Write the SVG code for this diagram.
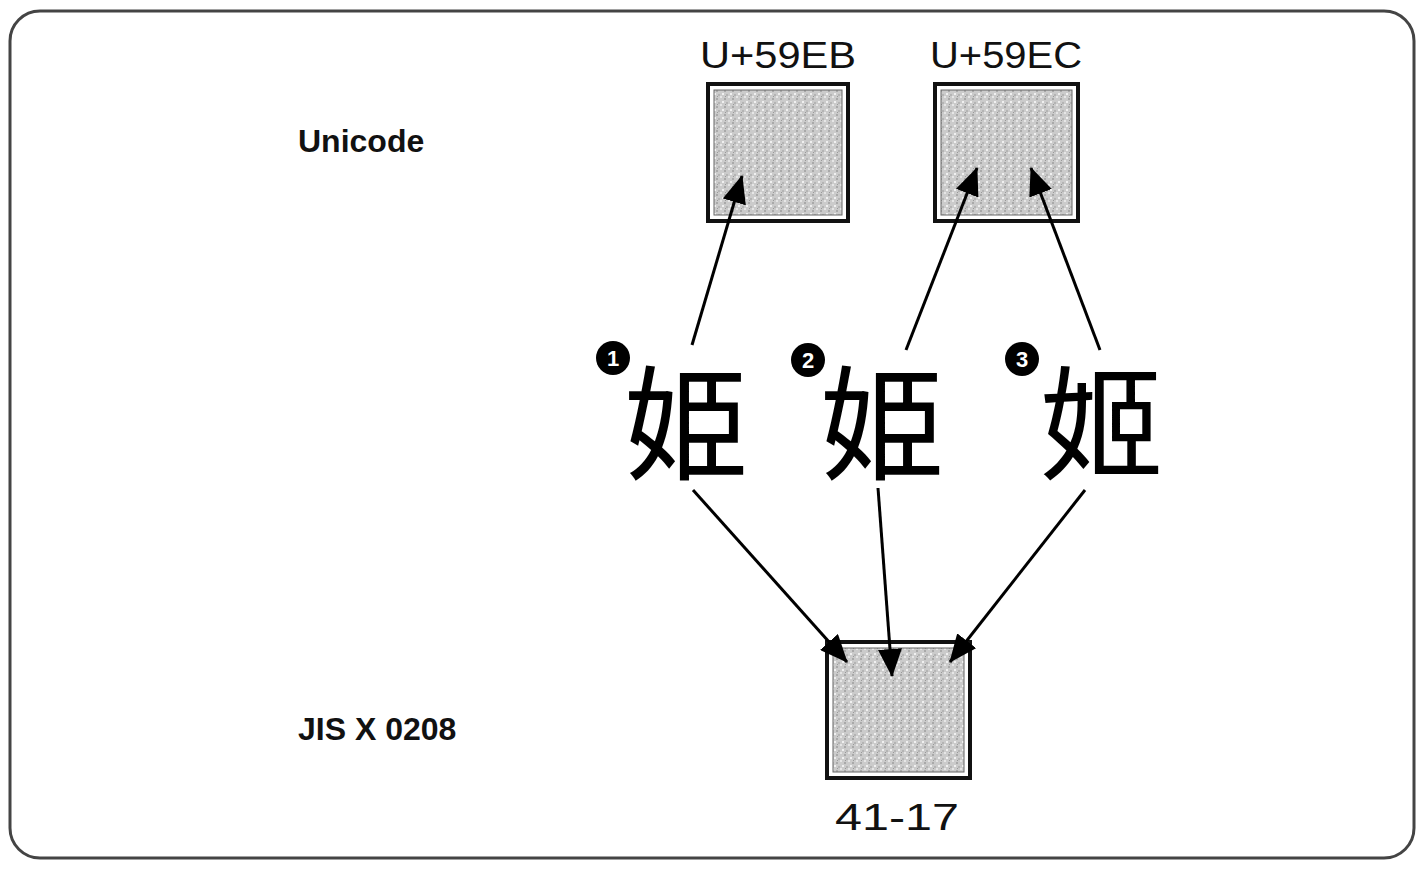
<svg xmlns="http://www.w3.org/2000/svg" width="1424" height="883" viewBox="0 0 1424 883">
<style>
.lbl{font-family:"Liberation Sans",Arial,sans-serif;font-size:37px;fill:#111;}
.row{font-family:"Liberation Sans",Arial,sans-serif;font-size:32px;font-weight:bold;fill:#111;}
.kanji{font-family:"Noto Sans CJK JP","Noto Sans CJK SC",sans-serif;font-size:124px;fill:#000;}
.kanjitc{font-family:"Noto Sans CJK TC","Noto Sans CJK SC",sans-serif;font-size:124px;fill:#000;}
.box{fill:#fff;stroke:#111;stroke-width:4;}
.fill{fill:url(#grain);stroke:#666;stroke-width:1;}
.conn{stroke:#000;stroke-width:3;fill:none;marker-end:url(#ah);}
.num{font-family:"Liberation Sans",Arial,sans-serif;font-size:22px;font-weight:bold;fill:#fff;}
</style>
<defs>
<marker id="ah" viewBox="0 0 28 24" refX="27" refY="12" markerWidth="28" markerHeight="24" orient="auto" markerUnits="userSpaceOnUse">
<path d="M0,0 L28,12 L0,24 z" fill="#000"/>
</marker>
<pattern id="grain" width="8" height="8" patternUnits="userSpaceOnUse">
<rect width="8" height="8" fill="#cbcbcb"/>
<rect x="0" y="0" width="2" height="2" fill="#e6e6e6"/>
<rect x="4" y="2" width="2" height="2" fill="#a9a9a9"/>
<rect x="2" y="5" width="2" height="2" fill="#f0f0f0"/>
<rect x="6" y="6" width="2" height="2" fill="#b4b4b4"/>
<rect x="5" y="0" width="1" height="1" fill="#999"/>
</pattern>
</defs>
<rect x="10" y="11" width="1404" height="847" rx="30" ry="30" fill="#fff" stroke="#444" stroke-width="3"/>
<g id="row-labels">
<text class="row" x="298" y="152">Unicode</text>
<text class="row" x="298" y="740">JIS X 0208</text>
</g>
<g id="u59eb">
<rect class="box" x="708" y="84" width="140" height="137"/>
<rect class="fill" x="714" y="90" width="128" height="125"/>
<text class="lbl" x="778" y="68" text-anchor="middle" textLength="156" lengthAdjust="spacingAndGlyphs">U+59EB</text>
</g>
<g id="u59ec">
<rect class="box" x="935" y="84" width="143" height="137"/>
<rect class="fill" x="941" y="90" width="131" height="125"/>
<text class="lbl" x="1006" y="68" text-anchor="middle" textLength="152" lengthAdjust="spacingAndGlyphs">U+59EC</text>
</g>
<g id="jis4117">
<rect class="box" x="827" y="642" width="143" height="136"/>
<rect class="fill" x="833" y="648" width="131" height="124"/>
<text class="lbl" x="897" y="830" text-anchor="middle" textLength="124" lengthAdjust="spacingAndGlyphs">41-17</text>
</g>
<g id="glyph1">
<circle cx="613" cy="358" r="17" fill="#000"/>
<text class="num" x="613" y="366" text-anchor="middle">1</text>
<text class="kanji" x="624" y="470" xml:lang="ja">姫</text>
</g>
<g id="glyph2">
<circle cx="808" cy="360" r="17" fill="#000"/>
<text class="num" x="808" y="368" text-anchor="middle">2</text>
<text class="kanji" x="820" y="470" xml:lang="ja">姫</text>
</g>
<g id="glyph3">
<circle cx="1022" cy="359" r="17" fill="#000"/>
<text class="num" x="1022" y="367" text-anchor="middle">3</text>
<text class="kanjitc" x="1040" y="470" xml:lang="zh-Hant">姬</text>
</g>
<g id="connectors">
<path class="conn" d="M692,345 L742,176"/>
<path class="conn" d="M906,350 L977,168"/>
<path class="conn" d="M1100,350 L1031,168"/>
<path class="conn" d="M693,490 L847,662"/>
<path class="conn" d="M878,488 L892,676"/>
<path class="conn" d="M1085,490 L950,662"/>
</g>
</svg>
